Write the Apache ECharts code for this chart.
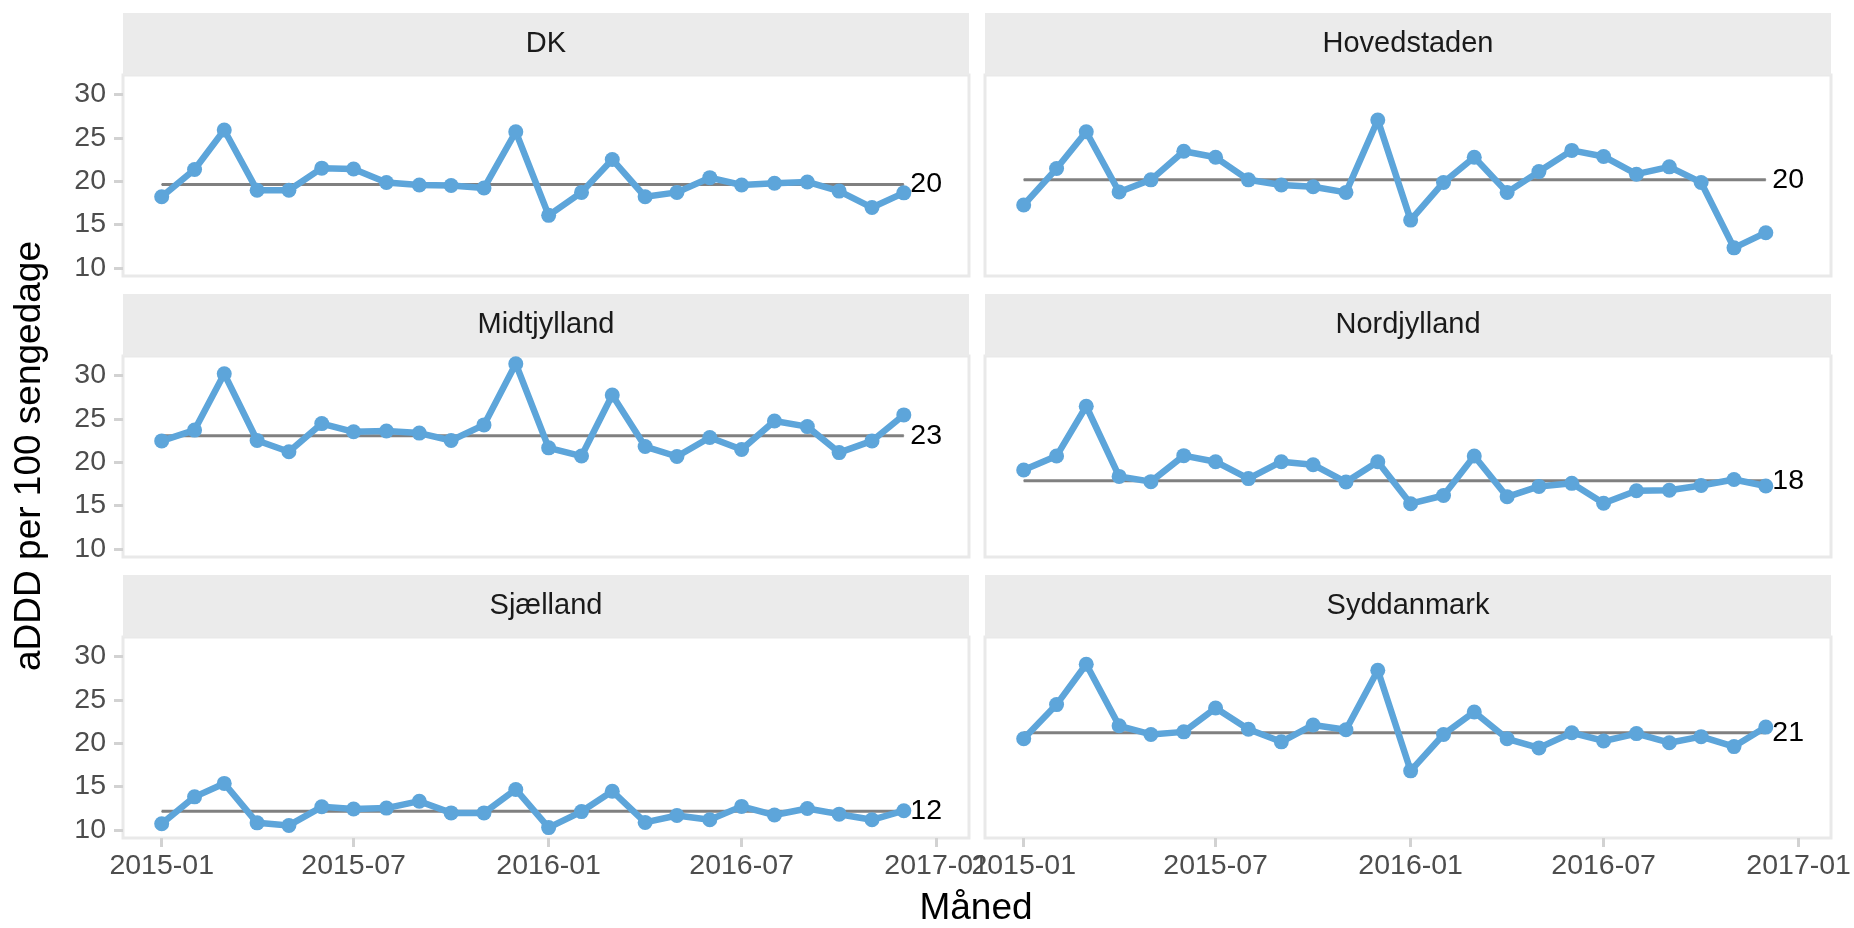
<!DOCTYPE html>
<html>
<head>
<meta charset="utf-8">
<script src="https://cdn.jsdelivr.net/npm/echarts@6.0.0/dist/echarts.min.js"></script>
<style>
  html, body { margin: 0; padding: 0; background: #fff; }
  #chart { width: 1854px; height: 928px; }
</style>
</head>
<body>
<div id="chart"></div>
<script>
// regions, one facet each
var regions = ['DK', 'Hovedstaden', 'Midtjylland', 'Nordjylland', 'Sjælland', 'Syddanmark'];

var months = ['2015-01', '2015-02', '2015-03', '2015-04', '2015-05', '2015-06',
              '2015-07', '2015-08', '2015-09', '2015-10', '2015-11', '2015-12',
              '2016-01', '2016-02', '2016-03', '2016-04', '2016-05', '2016-06',
              '2016-07', '2016-08', '2016-09', '2016-10', '2016-11', '2016-12'];

var dk = [18.2, 21.35, 25.9, 18.95, 18.95, 21.5, 21.4, 19.85, 19.55, 19.5, 19.2, 25.7,
          16.05, 18.7, 22.5, 18.2, 18.7, 20.4, 19.55, 19.75, 19.9, 18.85, 16.95, 18.65];
var hovedstaden = [17.25, 21.45, 25.7, 18.75, 20.15, 23.45, 22.75, 20.15, 19.55, 19.35, 18.7, 27.05,
                   15.5, 19.85, 22.75, 18.7, 21.1, 23.55, 22.85, 20.8, 21.65, 19.85, 12.3, 14.05];
var midtjylland = [22.45, 23.7, 30.2, 22.5, 21.2, 24.45, 23.5, 23.6, 23.35, 22.5, 24.3, 31.35,
                   21.65, 20.7, 27.75, 21.8, 20.65, 22.85, 21.45, 24.75, 24.1, 21.1, 22.45, 25.45];
var nordjylland = [19.1, 20.7, 26.45, 18.35, 17.75, 20.75, 20.05, 18.1, 20.05, 19.7, 17.7, 20.05,
                   15.2, 16.15, 20.7, 16.0, 17.2, 17.55, 15.25, 16.7, 16.75, 17.3, 18.0, 17.25];
var sjaelland = [10.7, 13.8, 15.35, 10.8, 10.5, 12.65, 12.4, 12.5, 13.3, 11.95, 11.95, 14.65,
                 10.25, 12.1, 14.45, 10.85, 11.65, 11.15, 12.7, 11.7, 12.45, 11.8, 11.15, 12.2];
var syddanmark = [20.5, 24.45, 29.1, 22.0, 21.0, 21.3, 24.05, 21.6, 20.15, 22.1, 21.55, 28.4,
                  16.8, 21.0, 23.6, 20.5, 19.45, 21.2, 20.25, 21.1, 20.05, 20.75, 19.6, 21.85];

// median per region (grey centre line)
var medians = [19.6, 20.15, 23.05, 17.85, 12.15, 21.2];

var xTickLabels = ['2015-01', '2015-07', '2016-01', '2016-07', '2017-01'];
var yTicks = [10, 15, 20, 25, 30];

var seriesValues = [dk, hovedstaden, midtjylland, nordjylland, sjaelland, syddanmark];

var FONT = '"Liberation Sans", Arial, Helvetica, sans-serif';
var BLUE = '#5DA5DA';
var DAY = 86400000;

function ts(ym) {
    var p = ym.split('-');
    return Date.UTC(+p[0], +p[1] - 1, 1);
}
var xTickValues = xTickLabels.map(ts);
var firstTs = ts(months[0]), lastTs = ts(months[months.length - 1]);

// layout of the 3x2 facet grid
var colLeft = [123, 985];
var panelW = 846;
var rowTop = [75, 356, 637];
var panelH = 201;
var stripH = 62;

function buildOption() {
    var grids = [], xAxes = [], yAxes = [], series = [], graphics = [];

    for (var i = 0; i < regions.length; i++) {
        var row = Math.floor(i / 2), col = i % 2;
        var pLeft = colLeft[col], pTop = rowTop[row];
        var bottomRow = row === 2, leftCol = col === 0;

        grids.push({
            left: pLeft, top: pTop, width: panelW, height: panelH,
            show: true, borderColor: '#e9e9e9', borderWidth: 3, backgroundColor: '#fff'
        });

        xAxes.push({
            type: 'value', gridIndex: i,
            min: firstTs - 36.5 * DAY,
            max: ts('2017-01') + 30.5 * DAY,
            splitLine: { show: false },
            axisLine: { show: false },
            axisTick: {
                show: bottomRow, length: 9, customValues: xTickValues,
                lineStyle: { color: '#d2d2d2', width: 3 }
            },
            axisLabel: {
                show: bottomRow, customValues: xTickValues, margin: 14,
                color: '#4d4d4d', fontSize: 28.5, fontFamily: FONT,
                formatter: function (v) {
                    var k = xTickValues.indexOf(v);
                    return k >= 0 ? xTickLabels[k] : '';
                }
            }
        });

        yAxes.push({
            type: 'value', gridIndex: i,
            min: 9.05, max: 32.25,
            splitLine: { show: false },
            axisLine: { show: false },
            axisTick: {
                show: leftCol, length: 9, customValues: yTicks,
                lineStyle: { color: '#d2d2d2', width: 3 }
            },
            axisLabel: {
                show: leftCol, customValues: yTicks, margin: 17,
                color: '#4d4d4d', fontSize: 28.5, fontFamily: FONT
            }
        });

        // grey median line, rounded value at its right end
        series.push({
            type: 'line', xAxisIndex: i, yAxisIndex: i, z: 2,
            symbol: 'circle', symbolSize: 1, showSymbol: true, silent: true,
            lineStyle: { color: '#808080', width: 3 },
            itemStyle: { color: '#808080' },
            data: [
                [firstTs, medians[i]],
                {
                    value: [lastTs, medians[i]],
                    label: {
                        show: true, position: 'right', distance: 6,
                        color: '#000', fontSize: 28.5, fontFamily: FONT,
                        formatter: String(Math.round(medians[i]))
                    }
                }
            ]
        });

        series.push({
            type: 'line', xAxisIndex: i, yAxisIndex: i, z: 3,
            data: months.map(function (m, k) { return [ts(m), seriesValues[i][k]]; }),
            symbol: 'circle', symbolSize: 15, showSymbol: true,
            lineStyle: { color: BLUE, width: 6.5 },
            itemStyle: { color: BLUE }
        });

        // facet strip
        graphics.push({
            type: 'rect', silent: true,
            shape: { x: pLeft, y: pTop - stripH, width: panelW, height: stripH },
            style: { fill: '#ebebeb' }
        });
        graphics.push({
            type: 'text', silent: true,
            x: pLeft + panelW / 2, y: pTop - stripH / 2,
            style: {
                text: regions[i], fill: '#1a1a1a', font: '29px ' + FONT,
                align: 'center', verticalAlign: 'middle'
            }
        });
    }

    // axis titles
    graphics.push({
        type: 'text', silent: true, x: 30, y: 456, rotation: Math.PI / 2,
        style: { text: 'aDDD per 100 sengedage', fill: '#000', font: '37px ' + FONT, align: 'center', verticalAlign: 'middle' }
    });
    graphics.push({
        type: 'text', silent: true, x: 976, y: 909,
        style: { text: 'Måned', fill: '#000', font: '37px ' + FONT, align: 'center', verticalAlign: 'middle' }
    });

    return {
        animation: false,
        backgroundColor: '#fff',
        grid: grids,
        xAxis: xAxes,
        yAxis: yAxes,
        series: series,
        graphic: graphics
    };
}

var chart = echarts.init(document.getElementById('chart'));
chart.setOption(buildOption());
</script>
</body>
</html>
